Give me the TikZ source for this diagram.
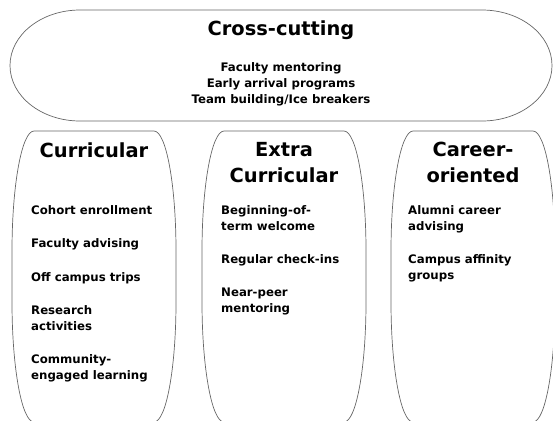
\documentclass[tikz,border=0pt]{standalone}
\usepackage{fontspec}
\setmainfont{DejaVu Sans}

\tikzset{x=1bp, y=-1bp,
  outline/.style={draw=black!60, line width=0.7bp},
  heading/.style={font=\bfseries\fontsize{19.5}{26}\selectfont, align=center, inner sep=0pt},
  itemtext/.style={font=\bfseries\fontsize{11.8}{16}\selectfont, inner sep=0pt},
  itemlist/.style={itemtext, align=left, anchor=north west}}

\begin{document}
\begin{tikzpicture}
  \useasboundingbox (0,0) rectangle (553,420);
  \clip (0,0) rectangle (553,420);

  % cross-cutting band
  \draw [outline]
    (80,10) -- (482,10) arc [start angle=-90, end angle=90, x radius=70, y radius=55.5]
    -- (80,121) arc [start angle=90, end angle=270, x radius=70, y radius=55.5] -- cycle;
  \node [heading, anchor=base] (cross) at (281,35) {Cross-cutting};
  \node [itemtext, align=center, anchor=north] (crosslist) at (281,62)
    {Faculty mentoring\\Early arrival programs\\Team building/Ice breakers};

  % the three columns
  \foreach \cx in {94, 284, 473}
    \draw [outline]
      (\cx-60,131) -- (\cx+60,131) arc [start angle=-90, end angle=0, x radius=22, y radius=120]
      -- (\cx+82,302) arc [start angle=0, end angle=90, x radius=22, y radius=120]
      -- (\cx-60,422) arc [start angle=90, end angle=180, x radius=22, y radius=120]
      -- (\cx-82,251) arc [start angle=180, end angle=270, x radius=22, y radius=120] -- cycle;

  \node [heading, anchor=north] (curr) at (94,142.2) {Curricular};
  \node [heading, anchor=north] (extra) at (284,142.2) {Extra\\Curricular};
  \node [heading, anchor=north] (career) at (473,142.2) {Career-\\oriented};

  \node [itemlist] (currlist) at (31,205)
    {Cohort enrollment\\[17.5bp]Faculty advising\\[17.5bp]Off campus trips\\[17.5bp]Research\\activities\\[17.5bp]Community-\\engaged learning};
  \node [itemlist] (extralist) at (221,205)
    {Beginning-of-\\term welcome\\[17.5bp]Regular check-ins\\[17.5bp]Near-peer\\mentoring};
  \node [itemlist] (careerlist) at (408,205)
    {Alumni career\\advising\\[17.5bp]Campus affinity\\groups};
\end{tikzpicture}
\end{document}
